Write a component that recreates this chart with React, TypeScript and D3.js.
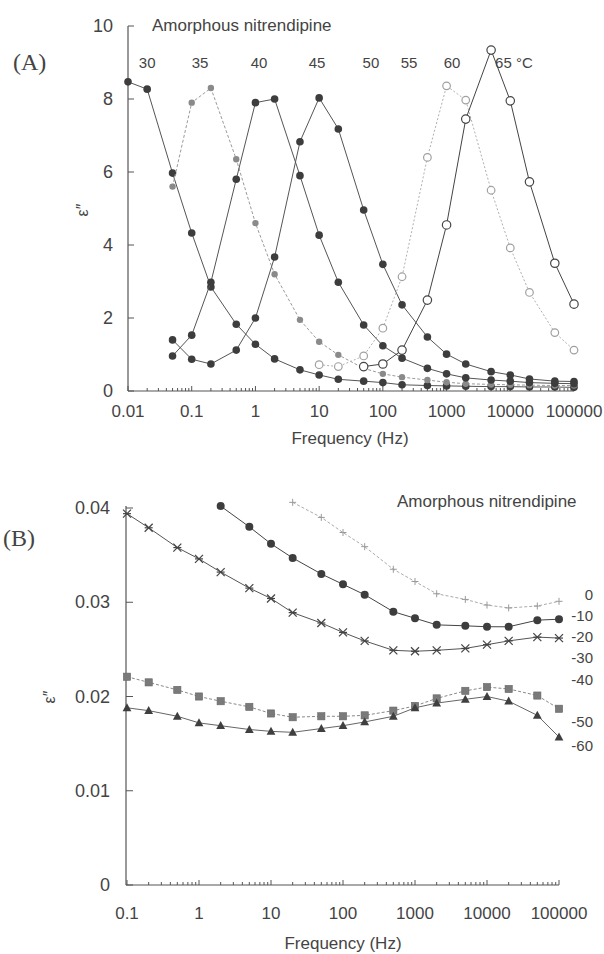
import React from "react";
import * as d3 from "d3";

// ---------- Panel A data ----------
const freqA = [0.01, 0.02, 0.05, 0.1, 0.2, 0.5, 1, 2, 5, 10, 20, 50, 100, 200, 500, 1000, 2000, 5000, 10000, 20000, 50000, 100000];
const a30 = [8.47, 8.27, 5.97, 4.33, 2.85, 1.83, 1.28, 0.88, 0.58, 0.44, 0.32, 0.27, 0.23, 0.17, 0.15, 0.14, 0.13, 0.12, 0.12, 0.11, 0.11, 0.1];
const a35 = [null, null, 5.6, 7.9, 8.3, 6.35, 4.6, 3.2, 1.95, 1.35, 0.99, 0.62, 0.47, 0.38, 0.3, 0.24, 0.2, 0.18, 0.17, 0.16, 0.15, 0.15];
const a40 = [null, null, 0.96, 1.53, 2.98, 5.8, 7.9, 8.0, 5.9, 4.27, 2.98, 1.81, 1.24, 0.9, 0.62, 0.47, 0.36, 0.3, 0.27, 0.23, 0.21, 0.2];
const a45 = [null, null, 1.4, 0.87, 0.74, 1.12, 2.0, 3.67, 6.83, 8.03, 7.18, 4.96, 3.47, 2.36, 1.48, 1.01, 0.74, 0.53, 0.44, 0.33, 0.27, 0.26];
const a60 = [null, null, null, null, null, null, null, null, null, 0.72, 0.67, 0.96, 1.72, 3.13, 6.4, 8.36, 7.97, 5.5, 3.92, 2.7, 1.6, 1.12];
const a65 = [null, null, null, null, null, null, null, null, null, null, null, 0.67, 0.74, 1.12, 2.49, 4.55, 7.45, 9.34, 7.95, 5.73, 3.5, 2.38];
const tempLabelsA = ["30", "35", "40", "45", "50", "55", "60", "65 °C"];
const tempLabelFreqA = [0.02, 0.135, 1.14, 9.3, 65, 257, 1220, 11400];
const yTicksA = [0, 2, 4, 6, 8, 10];
const xTicksA = [0.01, 0.1, 1, 10, 100, 1000, 10000, 100000];
const xTickLabelsA = ["0.01", "0.1", "1", "10", "100", "1000", "10000", "100000"];

// ---------- Panel B data ----------
const freqB = [0.1, 0.2, 0.5, 1, 2, 5, 10, 20, 50, 100, 200, 500, 1000, 2000, 5000, 10000, 20000, 50000, 100000];
const b0 = [null, null, null, null, null, null, null, 0.0406, 0.039, 0.0374, 0.0359, 0.0335, 0.0322, 0.0309, 0.0303, 0.0297, 0.0294, 0.0296, 0.0301];
const b10 = [null, null, null, null, 0.0402, 0.038, 0.0362, 0.0347, 0.033, 0.0319, 0.0308, 0.029, 0.0283, 0.0276, 0.0275, 0.0274, 0.0274, 0.0281, 0.0282];
const b20 = [0.0394, 0.0379, 0.0358, 0.0346, 0.0332, 0.0315, 0.0304, 0.0289, 0.0278, 0.0268, 0.0259, 0.0249, 0.0248, 0.0249, 0.0251, 0.0255, 0.0259, 0.0263, 0.0262];
const b40 = [0.0221, 0.0215, 0.0207, 0.02, 0.0195, 0.0189, 0.0182, 0.0178, 0.0179, 0.0179, 0.018, 0.0185, 0.019, 0.0198, 0.0206, 0.021, 0.0208, 0.0201, 0.0187];
const b60 = [0.0188, 0.0185, 0.0179, 0.0172, 0.0169, 0.0165, 0.0163, 0.0162, 0.0166, 0.0169, 0.0173, 0.0179, 0.0188, 0.0193, 0.0197, 0.02, 0.0195, 0.018, 0.0157];
const tempLabelsB = ["0", "-10", "-20", "-30", "-40", "-50", "-60"];
const tempLabelValB = [0.0308, 0.02855, 0.0263, 0.02405, 0.0218, 0.0173, 0.0147];
const yTicksB = [0, 0.01, 0.02, 0.03, 0.04];
const yTickLabelsB = ["0", "0.01", "0.02", "0.03", "0.04"];
const xTicksB = [0.1, 1, 10, 100, 1000, 10000, 100000];
const xTickLabelsB = ["0.1", "1", "10", "100", "1000", "10000", "100000"];

const SANS = "'Liberation Sans', Arial, sans-serif";
const SERIF = "'Liberation Serif', 'DejaVu Serif', serif";

type Pt = [number, number];
function pts(fr: number[], vals: (number | null)[]): Pt[] {
  const out: Pt[] = [];
  vals.forEach((v, i) => { if (v !== null) out.push([fr[i], v]); });
  return out;
}

function minorTicks(lo: number, hi: number): number[] {
  const out: number[] = [];
  for (let d = lo; d < hi; d *= 10) {
    for (let k = 2; k <= 9; k++) out.push(d * k);
  }
  return out;
}

export default function App() {
  // scales
  const xA = d3.scaleLog().domain([0.01, 100000]).range([128, 574]);
  const yA = d3.scaleLinear().domain([0, 10]).range([391, 26]);
  const xB = d3.scaleLog().domain([0.1, 100000]).range([127, 559]);
  const yB = d3.scaleLinear().domain([0, 0.04]).range([885, 508]);

  const lineA = d3.line<Pt>().x(d => xA(d[0])).y(d => yA(d[1]));
  const lineB = d3.line<Pt>().x(d => xB(d[0])).y(d => yB(d[1]));

  const seriesA = [
    { data: pts(freqA, a30), stroke: "#555", dash: "", marker: "fill", mfill: "#3d3d3d", r: 3.8 },
    { data: pts(freqA, a35), stroke: "#9a9a9a", dash: "3,2", marker: "fill", mfill: "#8a8a8a", r: 3.2 },
    { data: pts(freqA, a40), stroke: "#555", dash: "", marker: "fill", mfill: "#3d3d3d", r: 3.8 },
    { data: pts(freqA, a45), stroke: "#555", dash: "", marker: "fill", mfill: "#3d3d3d", r: 3.8 },
    { data: pts(freqA, a60), stroke: "#b0b0b0", dash: "2,2", marker: "open", mfill: "#a0a0a0", r: 3.8 },
    { data: pts(freqA, a65), stroke: "#444", dash: "", marker: "open", mfill: "#444", r: 4.2 },
  ];

  const minorA = minorTicks(0.01, 100000);
  const minorB = minorTicks(0.1, 100000);

  const marker = (kind: string, x: number, y: number, key: string) => {
    switch (kind) {
      case "circle":
        return <circle key={key} cx={x} cy={y} r={4} fill="#3d3d3d" />;
      case "plus":
        return (
          <g key={key} stroke="#9a9a9a" strokeWidth={1}>
            <line x1={x - 3.5} x2={x + 3.5} y1={y} y2={y} />
            <line x1={x} x2={x} y1={y - 3.5} y2={y + 3.5} />
          </g>
        );
      case "star":
        return (
          <g key={key} stroke="#444" strokeWidth={1.2}>
            <line x1={x - 4} x2={x + 4} y1={y - 4} y2={y + 4} />
            <line x1={x - 4} x2={x + 4} y1={y + 4} y2={y - 4} />
            <line x1={x - 4} x2={x + 4} y1={y} y2={y} />
          </g>
        );
      case "square":
        return <rect key={key} x={x - 3.6} y={y - 3.6} width={7.2} height={7.2} fill="#7a7a7a" stroke="#666" strokeWidth={0.6} />;
      case "tri":
        return <path key={key} d={`M${x},${y - 4.6}L${x + 4.4},${y + 3.4}L${x - 4.4},${y + 3.4}Z`} fill="#3f3f3f" />;
      default:
        return null;
    }
  };

  const seriesB = [
    { data: pts(freqB, b0), stroke: "#aaa", dash: "3,2", kind: "plus" },
    { data: pts(freqB, b10), stroke: "#444", dash: "", kind: "circle" },
    { data: pts(freqB, b20), stroke: "#555", dash: "", kind: "star" },
    { data: pts(freqB, b40), stroke: "#888", dash: "3,2", kind: "square" },
    { data: pts(freqB, b60), stroke: "#666", dash: "", kind: "tri" },
  ];

  const axisColor = "#555";
  const textColor = "#444";

  return (
    <svg width={604} height={954} style={{ position: "absolute", left: 0, top: 0, background: "#fff" }}>
      <rect x={0} y={0} width={604} height={954} fill="#fff" />

      {/* ================= Panel A ================= */}
      <text x={13} y={70} fontFamily={SERIF} fontSize={24} fill={textColor}>(A)</text>
      <text x={152} y={31} fontFamily={SANS} fontSize={17} fill={textColor}>Amorphous nitrendipine</text>
      {tempLabelsA.map((t, i) => (
        <text key={"ta" + i} x={xA(tempLabelFreqA[i])} y={68} textAnchor="middle" fontFamily={SANS} fontSize={15} fill={textColor}>{t}</text>
      ))}

      {/* axes */}
      <line x1={128} x2={128} y1={yA(10)} y2={yA(0)} stroke={axisColor} strokeWidth={1.2} />
      <line x1={128} x2={xA(100000)} y1={yA(0)} y2={yA(0)} stroke={axisColor} strokeWidth={1.2} />
      {yTicksA.map(v => (
        <g key={"yta" + v}>
          <line x1={128} x2={134} y1={yA(v)} y2={yA(v)} stroke={axisColor} strokeWidth={1} />
          <text x={113} y={yA(v) + 6} textAnchor="end" fontFamily={SANS} fontSize={18} fill={textColor}>{v}</text>
        </g>
      ))}
      {minorA.map((f, i) => (
        <line key={"mia" + i} x1={xA(f)} x2={xA(f)} y1={yA(0)} y2={yA(0) - 3} stroke={axisColor} strokeWidth={1} />
      ))}
      {xTicksA.map((f, i) => (
        <g key={"xta" + i}>
          <line x1={xA(f)} x2={xA(f)} y1={yA(0)} y2={yA(0) - 5} stroke={axisColor} strokeWidth={1} />
          <text x={xA(f)} y={417} textAnchor="middle" fontFamily={SANS} fontSize={17} fill={textColor}>{xTickLabelsA[i]}</text>
        </g>
      ))}
      <text x={350} y={444} textAnchor="middle" fontFamily={SANS} fontSize={17} fill={textColor}>Frequency (Hz)</text>
      <text transform="translate(88,210) rotate(-90)" textAnchor="middle" fontFamily={SANS} fontSize={16} fill={textColor}>ε″</text>

      {/* series */}
      {seriesA.map((s, si) => (
        <g key={"sa" + si}>
          <path d={lineA(s.data) || ""} fill="none" stroke={s.stroke} strokeWidth={1} strokeDasharray={s.dash} />
          {s.data.map((d, i) =>
            s.marker === "fill" ? (
              <circle key={i} cx={xA(d[0])} cy={yA(d[1])} r={s.r} fill={s.mfill} />
            ) : (
              <circle key={i} cx={xA(d[0])} cy={yA(d[1])} r={s.r} fill="#fff" stroke={s.mfill} strokeWidth={1.2} />
            )
          )}
        </g>
      ))}

      {/* ================= Panel B ================= */}
      <text x={3} y={546} fontFamily={SERIF} fontSize={24} fill={textColor}>(B)</text>
      <text x={397} y={507} fontFamily={SANS} fontSize={17} fill={textColor}>Amorphous nitrendipine</text>

      <line x1={126} x2={126} y1={yB(0.04) - 2} y2={yB(0)} stroke={axisColor} strokeWidth={1.2} />
      <line x1={126} x2={xB(100000)} y1={yB(0)} y2={yB(0)} stroke={axisColor} strokeWidth={1.2} />
      {yTicksB.map((v, i) => (
        <g key={"ytb" + i}>
          <line x1={126} x2={133} y1={yB(v)} y2={yB(v)} stroke={axisColor} strokeWidth={1} />
          <text x={110} y={yB(v) + 6} textAnchor="end" fontFamily={SANS} fontSize={18} fill={textColor}>{yTickLabelsB[i]}</text>
        </g>
      ))}
      {minorB.map((f, i) => (
        <line key={"mib" + i} x1={xB(f)} x2={xB(f)} y1={yB(0)} y2={yB(0) - 3} stroke={axisColor} strokeWidth={1} />
      ))}
      {xTicksB.map((f, i) => (
        <g key={"xtb" + i}>
          <line x1={xB(f)} x2={xB(f)} y1={yB(0)} y2={yB(0) - 5} stroke={axisColor} strokeWidth={1} />
          <text x={xB(f)} y={919} textAnchor="middle" fontFamily={SANS} fontSize={17} fill={textColor}>{xTickLabelsB[i]}</text>
        </g>
      ))}
      <text x={343} y={949} textAnchor="middle" fontFamily={SANS} fontSize={17} fill={textColor}>Frequency (Hz)</text>
      <text transform="translate(55,697) rotate(-90)" textAnchor="middle" fontFamily={SANS} fontSize={16} fill={textColor}>ε″</text>

      {seriesB.map((s, si) => (
        <g key={"sb" + si}>
          <path d={lineB(s.data) || ""} fill="none" stroke={s.stroke} strokeWidth={1} strokeDasharray={s.dash} />
          {s.data.map((d, i) => marker(s.kind, xB(d[0]), yB(d[1]), "m" + si + "-" + i))}
        </g>
      ))}
      {tempLabelsB.map((t, i) => (
        <text key={"tb" + i} x={593} y={yB(tempLabelValB[i]) + 5} textAnchor="end" fontFamily={SANS} fontSize={15} fill={textColor}>{t}</text>
      ))}
    </svg>
  );
}
